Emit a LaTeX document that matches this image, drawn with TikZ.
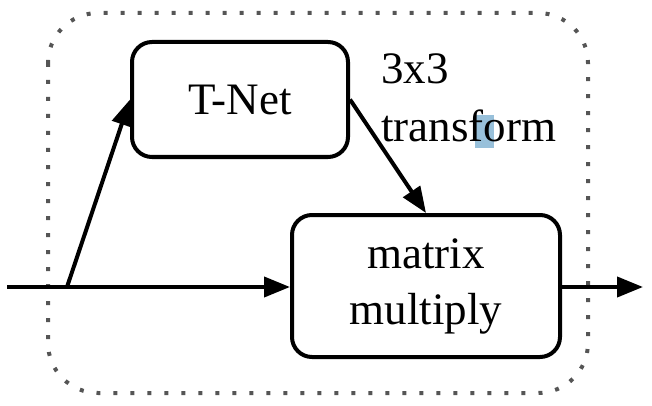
\documentclass[tikz,border=0pt]{standalone}
\usepackage{fontspec}
\setmainfont{Liberation Serif}
\usetikzlibrary{arrows.meta}
\definecolor{hlblue}{RGB}{152,192,218}
\definecolor{dotgray}{RGB}{85,85,85}
\begin{document}
\begin{tikzpicture}[x=1pt,y=-1pt,
  blk/.style={draw,line width=4pt,rounded corners=20pt,inner sep=0pt,
    font=\fontsize{45}{56}\selectfont,align=center},
  conn/.style={line width=4pt,-{Triangle[length=26pt,width=20pt]}},
  lbl/.style={font=\fontsize{45}{56}\selectfont,inner sep=0pt,anchor=base west}]
\useasboundingbox (0,0) rectangle (652,406);
\draw[dotgray,line width=4pt,dash pattern=on 4pt off 13pt,rounded corners=50pt]
  (48,13) rectangle (588,393);
\fill[hlblue] (475,115) rectangle (494,148);
\node[blk,minimum width=216pt,minimum height=115pt] (tnet) at (240,99.5) {T-Net};
\node[blk,minimum width=268pt,minimum height=142pt] (mm) at (426,286) {\raisebox{-3pt}{matrix}\\\raisebox{-3pt}{multiply}};
\node[lbl] (lblA) at (381,84) {3x3};
\node[lbl] (lblB) at (381,142) {transform};
\coordinate (in) at (7,287);
\coordinate (br) at (67,287);
\coordinate (out) at (643,287);
\draw[line width=4pt] (in) -- (br);
\draw[conn] (br) -- (mm.west |- br);
\draw[conn] (br) -- (tnet.west);
\draw[conn] (tnet.east) -- (mm.north);
\draw[conn] (mm.east |- out) -- (out);
\end{tikzpicture}
\end{document}
